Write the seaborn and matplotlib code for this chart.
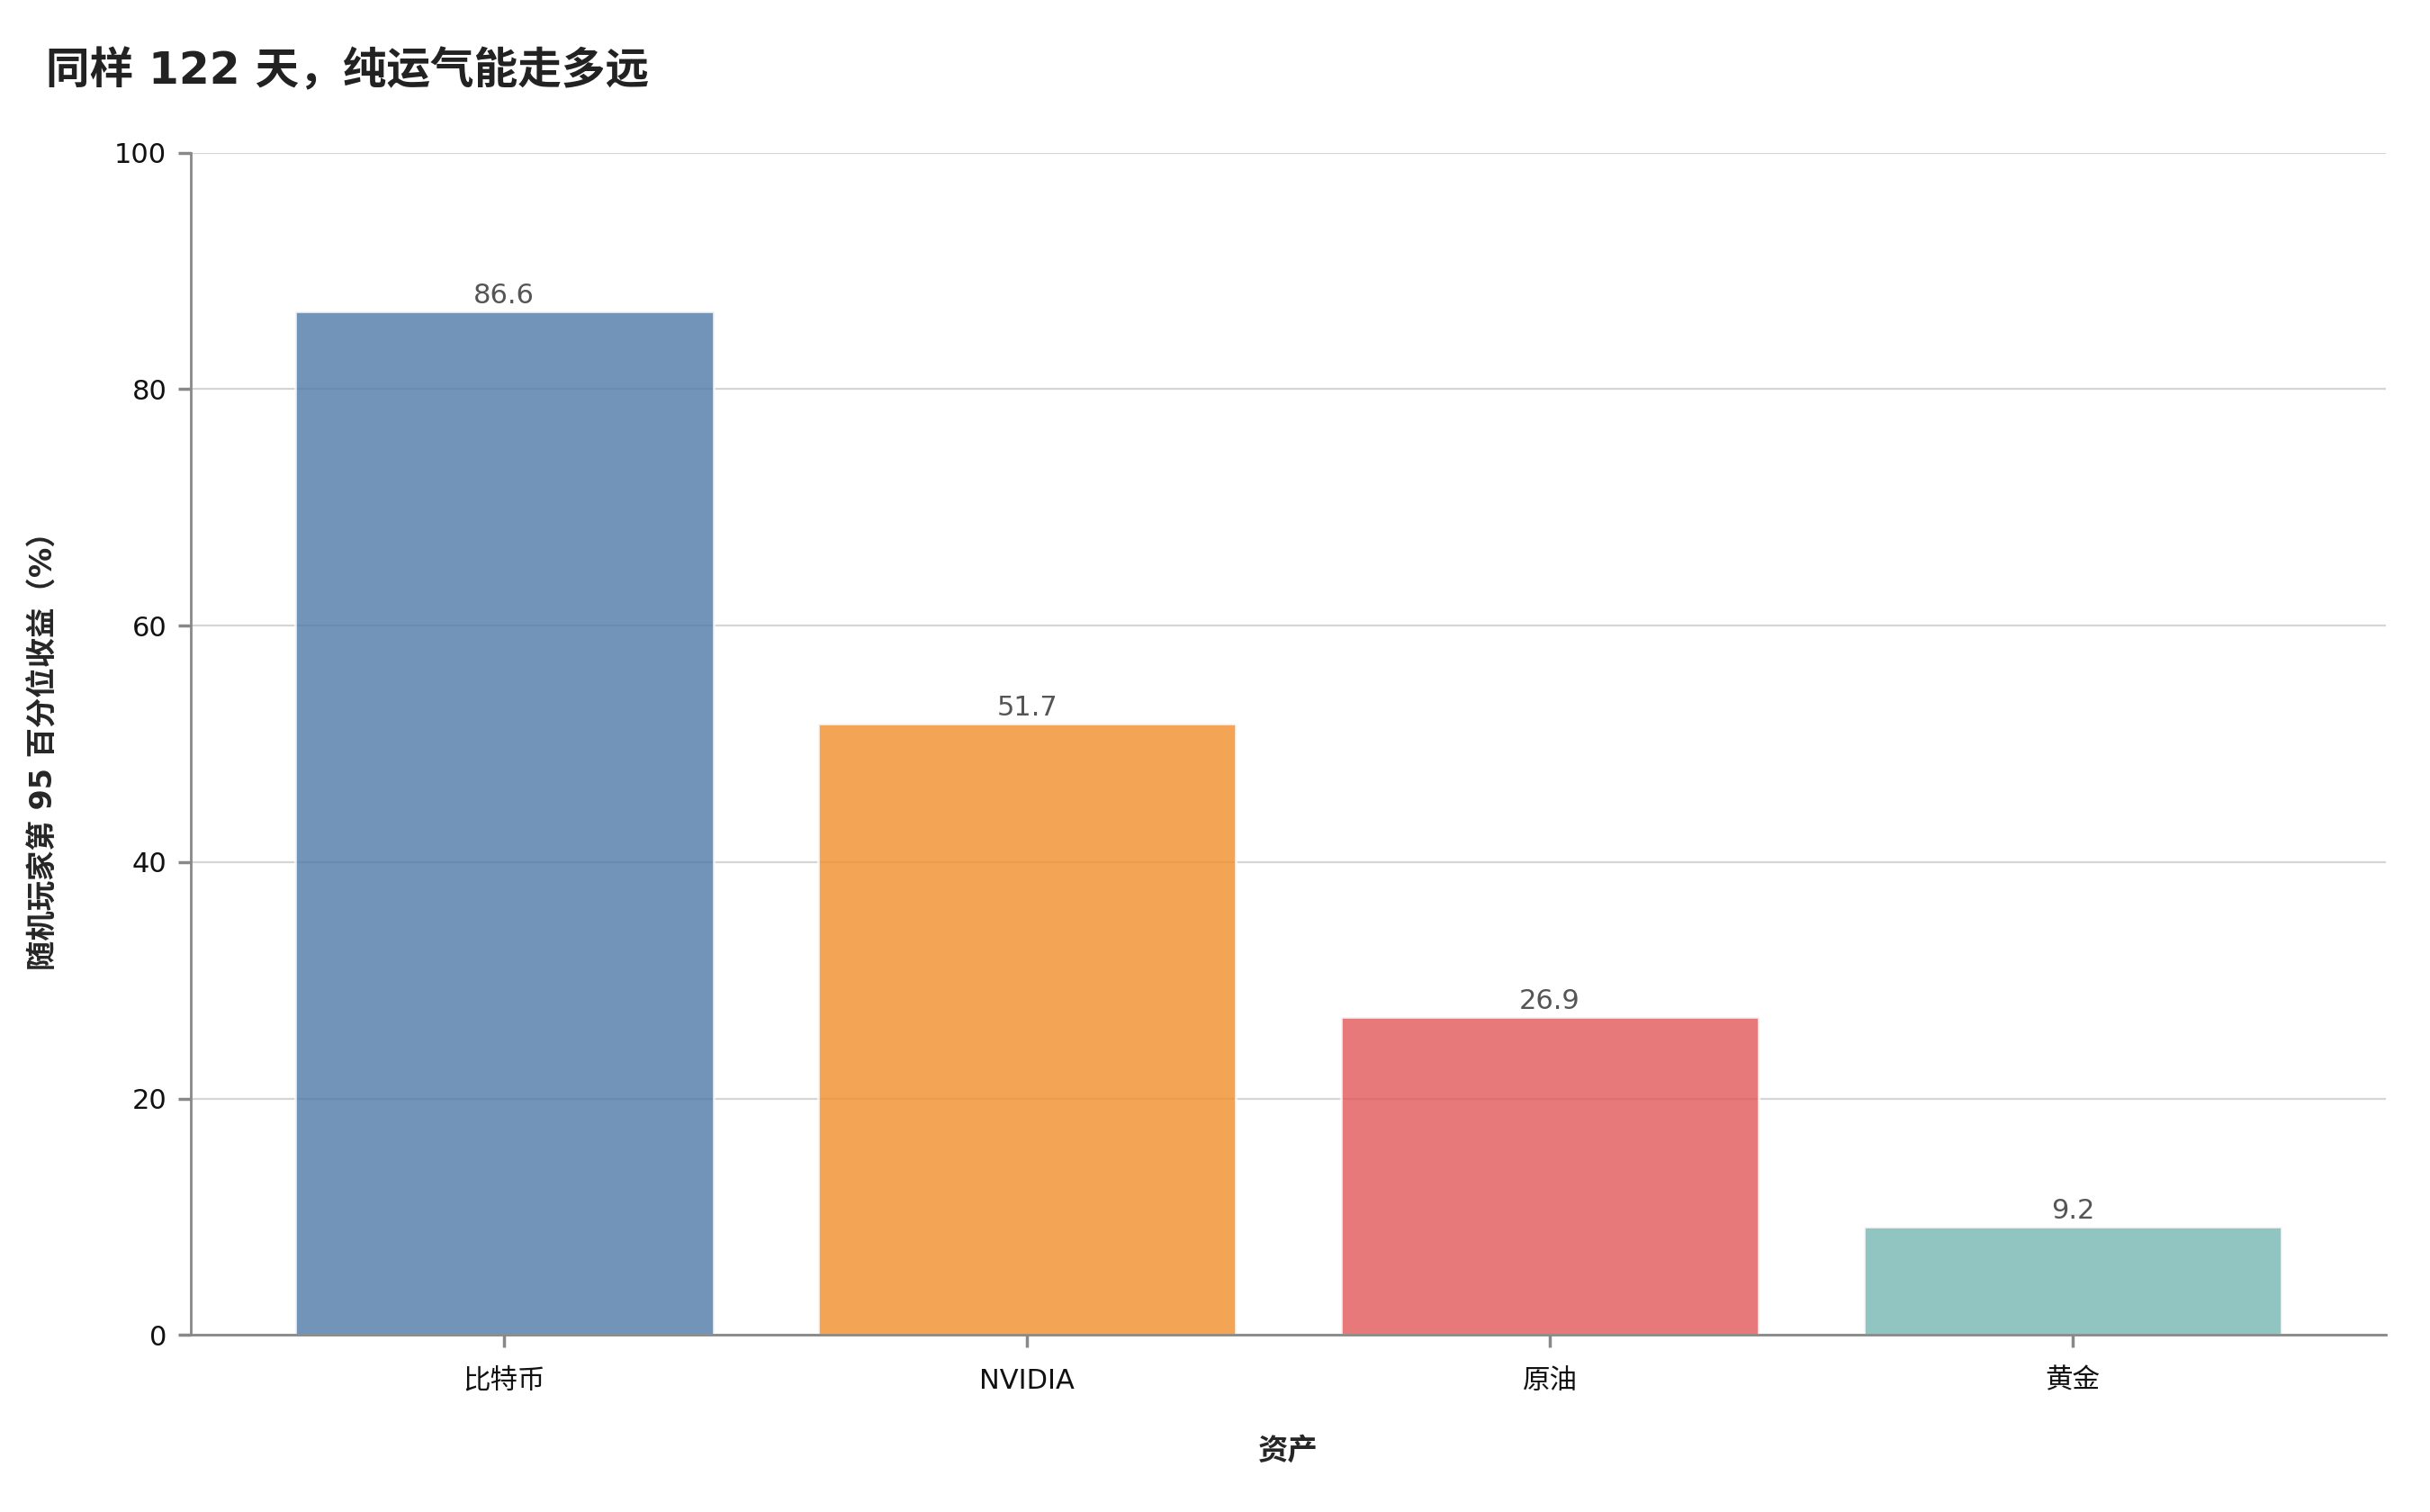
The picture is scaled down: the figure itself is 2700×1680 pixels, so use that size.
import matplotlib
matplotlib.use("Agg")
import matplotlib.pyplot as plt
import seaborn as sns
import pandas as pd

# ---------------------------------------------------------
# Données
# ---------------------------------------------------------
assets = ["比特币", "NVIDIA", "原油", "黄金"]
p95_returns = [86.6, 51.7, 26.9, 9.2]
bar_colors = ["#4E79A7", "#F28E2B", "#E15759", "#76B7B2"]
y_ticks = [0, 20, 40, 60, 80, 100]

title = "同样 122 天，纯运气能走多远"
x_label = "资产"
y_label = "随机玩家第 95 百分位收益（%）"

df = pd.DataFrame({"asset": assets, "p95": p95_returns})

# ---------------------------------------------------------
# Style
# ---------------------------------------------------------
sns.set_theme(style="white")
plt.rcParams["font.family"] = ["DejaVu Sans", "Noto Sans CJK SC"]

fig, ax = plt.subplots(figsize=(13.5, 8.4), dpi=200)
fig.subplots_adjust(left=0.0784, right=0.982, top=0.899, bottom=0.117)

sns.barplot(data=df, x="asset", y="p95", hue="asset", palette=bar_colors,
            width=0.8, alpha=0.8, legend=False, ax=ax, saturation=1)

for container in ax.containers:
    ax.bar_label(container, fmt="%.1f", fontsize=11, color="#555555", padding=1)

ax.set_xlim(-0.6, 3.6)
ax.set_ylim(0, 100)
ax.set_yticks(y_ticks)
ax.yaxis.grid(True, color="#d5d5d5", linewidth=0.8)
ax.set_axisbelow(True)

sns.despine(ax=ax)
for side in ["left", "bottom"]:
    ax.spines[side].set_color("#888888")
    ax.spines[side].set_linewidth(1.0)

ax.tick_params(axis="both", labelsize=11, colors="#111111", length=5,
               color="#888888", left=True, bottom=True)
ax.tick_params(axis="x", pad=8)
ax.tick_params(axis="y", pad=4.5)
ax.set_xlabel(x_label, fontsize=12, fontweight="bold", labelpad=17)
ax.set_ylabel(y_label, fontsize=12, fontweight="bold", labelpad=22)

fig.text(0.019, 0.953, title, fontsize=17.5, fontweight="bold",
         color="#222222", ha="left", va="center")

fig.savefig("out.png", dpi=200)
plt.close(fig)
